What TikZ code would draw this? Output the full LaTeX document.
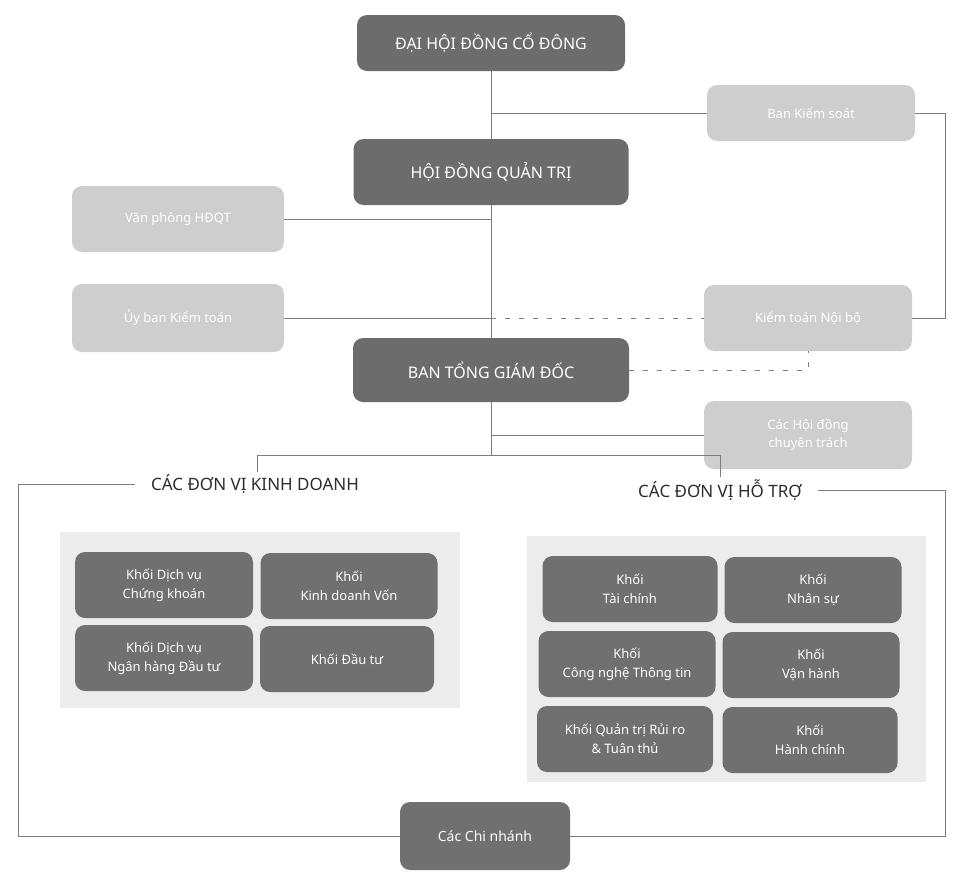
\documentclass[tikz,border=0pt]{standalone}
\usepackage{fontspec}
\setmainfont{Noto Sans}
\definecolor{darkfill}{RGB}{108,108,108}
\definecolor{unitfill}{RGB}{112,112,112}
\definecolor{lightfill}{RGB}{206,206,206}
\definecolor{panelfill}{RGB}{236,236,236}
\definecolor{linecol}{RGB}{125,125,125}
\definecolor{headcol}{RGB}{45,45,45}
\tikzset{
  topbox/.style={rectangle, rounded corners=10pt, fill=darkfill, text=white,
    font=\fontsize{16}{19}\selectfont, align=center, inner sep=0pt},
  lightbox/.style={rectangle, rounded corners=10pt, fill=lightfill, text=white,
    font=\fontsize{13}{18}\selectfont, align=center, inner sep=0pt,
    minimum width=208pt},
  unitbox/.style={rectangle, rounded corners=10pt, fill=unitfill, text=white,
    font=\fontsize{13}{19}\selectfont, align=center, inner sep=0pt,
    minimum height=66pt},
  header/.style={text=headcol, font=\fontsize{17}{20}\selectfont, inner sep=2pt},
  conn/.style={draw=linecol, line width=0.9pt},
  dashconn/.style={draw=linecol, line width=0.9pt, dash pattern=on 5pt off 9pt},
}
\begin{document}
\begin{tikzpicture}[x=1pt,y=-1pt]
\useasboundingbox (0,0) rectangle (961,878);
% panels
\fill[panelfill] (60,532) rectangle (460,708);
\fill[panelfill] (527,536) rectangle (926,782);
% top chain
\node[topbox, minimum width=268pt, minimum height=56pt] (dhd) at (491,43) {ĐẠI HỘI ĐỒNG CỔ ĐÔNG};
\node[topbox, minimum width=275pt, minimum height=66pt] (hdqt) at (491,172) {HỘI ĐỒNG QUẢN TRỊ};
\node[topbox, minimum width=276pt, minimum height=64pt] (btgd) at (491,370) {BAN TỔNG GIÁM ĐỐC};
% light boxes
\node[lightbox, minimum height=56pt] (bks) at (811,113) {Ban Kiểm soát};
\node[lightbox, minimum width=212pt, minimum height=66pt] (l1) at (178,219) {Văn phòng HĐQT};
\node[lightbox, minimum width=212pt, minimum height=68pt] (l2) at (178,318) {Ủy ban Kiểm toán};
\node[lightbox, minimum height=66pt] (rm) at (808,318) {Kiểm toán Nội bộ};
\node[lightbox, minimum height=68pt] (rl) at (808,435) {Các Hội đồng\\chuyên trách};
% headers
\node[header] (kd) at (255,484) {CÁC ĐƠN VỊ KINH DOANH};
\node[header] (ht) at (720,490) {CÁC ĐƠN VỊ HỖ TRỢ};
% business units
\node[unitbox, minimum width=178pt] (b1) at (164,585) {Khối Dịch vụ\\Chứng khoán};
\node[unitbox, minimum width=177pt] (b2) at (349,586) {Khối\\Kinh doanh Vốn};
\node[unitbox, minimum width=178pt] (b3) at (164,658) {Khối Dịch vụ\\Ngân hàng Đầu tư};
\node[unitbox, minimum width=174pt] (b4) at (347,659) {Khối Đầu tư};
% support units
\node[unitbox, minimum width=175pt] (s1) at (630,589) {Khối\\Tài chính};
\node[unitbox, minimum width=177pt] (s2) at (813,590) {Khối\\Nhân sự};
\node[unitbox, minimum width=177pt] (s3) at (627,664) {Khối\\Công nghệ Thông tin};
\node[unitbox, minimum width=177pt] (s4) at (811,665) {Khối\\Vận hành};
\node[unitbox, minimum width=176pt] (s5) at (625,739) {Khối Quản trị Rủi ro\\\& Tuân thủ};
\node[unitbox, minimum width=175pt] (s6) at (810,740) {Khối\\Hành chính};
% bottom
\node[unitbox, minimum width=170pt, minimum height=68pt, font=\fontsize{14}{18}\selectfont] (cn) at (485,836) {Các Chi nhánh};
% coordinates
\coordinate (t) at (491,0);
\coordinate (ksj) at (491,113);
\coordinate (br) at (491,455);
% trunk
\draw[conn] (dhd.south) -- (hdqt.north);
\draw[conn] (hdqt.south) -- (btgd.north);
\draw[conn] (btgd.south) -- (br);
% Ban kiem soat
\draw[conn] (ksj) -- (bks.west);
\draw[conn] (bks.east) -- ++(30,0) |- (rm.east);
% left boxes
\draw[conn] (l1.east) -- (l1.east -| t);
\draw[conn] (l2.east) -- (l2.east -| t);
\draw[dashconn] (l2.east -| t) -- (rm.west);
% BTGD dashed
\draw[dashconn] (btgd.east) -| (rm.south);
% right low
\draw[conn] (rl.west -| t) -- (rl.west);
% branches
\coordinate (bl) at (257,455);
\coordinate (brr) at (720,455);
\draw[conn] (bl) -- (brr);
\draw[conn] (bl) -- (kd.north -| bl);
\draw[conn] (brr) -- (ht.north -| brr);
% frame
\draw[conn] ([xshift=-14pt]kd.west) -- (18,484) -- (18,836) -- (cn.west);
\draw[conn] ([xshift=14pt]ht.east) -- (945,490) -- (945,836) -- (cn.east);
\end{tikzpicture}
\end{document}
